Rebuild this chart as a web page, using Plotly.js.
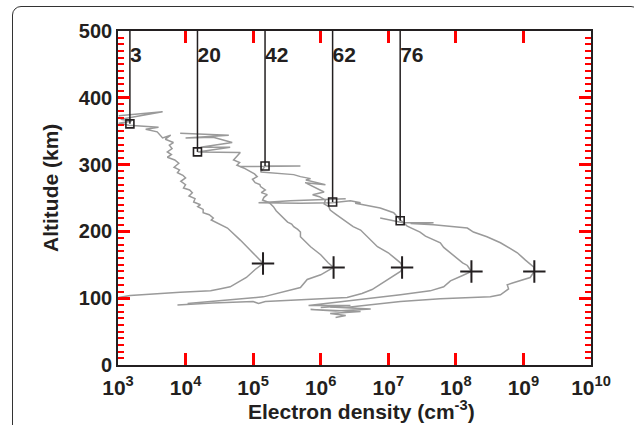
<!DOCTYPE html>
<html>
<head>
<meta charset="utf-8">
<script src="https://cdn.plot.ly/plotly-3.0.1.min.js"></script>
<style>
html,body{margin:0;padding:0;width:634px;height:425px;overflow:hidden;background:#fff}
#frame{position:absolute;left:12px;top:6px;width:628px;height:500px;border:1px solid #333;border-radius:9px;box-sizing:border-box}
#chart{position:absolute;left:0;top:0;width:634px;height:425px}
</style>
</head>
<body>
<div id="frame"></div>
<div id="chart"></div>
<script>
// ---- data (log10 electron density in cm^-3, altitude in km) ----
const profileLabels = ['3', '20', '42', '62', '76'];

const p1LogNe = [3.01,3.66,3.33,3.04,3.20,3.01,3.16,3.60,3.41,3.58,3.66,3.78,3.70,3.82,3.76,3.80,3.73,3.79,3.73,3.84,3.90,3.83,3.91,3.88,3.96,4.00,3.93,4.00,3.97,4.06,4.10,4.05,4.14,4.12,4.22,4.18,4.26,4.26,4.35,4.41,4.38,4.44,4.62,4.81,5.00,5.15,5.03,4.90,4.76,4.66,4.52,4.37,3.92,3.18,3.01];
const p1Alt   = [373,379,373,368,365,362,359,356,353,349,340,344,338,333,329,324,319,315,311,307,302,296,292,288,284,280,275,270,265,262,258,253,249,244,240,237,233,228,225,220,217,214,205,187,168,152,143,131,123,117,114,111,109,104,101];

const p2LogNe = [3.92,4.64,4.00,4.41,4.69,4.22,4.66,4.18,4.81,4.71,4.80,4.76,4.86,4.91,4.96,5.02,5.06,4.99,5.03,5.10,5.11,5.18,5.12,5.21,5.16,5.14,5.24,5.30,5.34,5.40,5.46,5.51,5.57,5.60,5.66,5.70,5.70,5.85,6.00,6.11,6.19,6.00,5.80,5.70,5.15,4.03];
const p2Alt   = [347,344,340,341,333,326,326,319,318,307,303,299,295,292,289,286,282,278,273,270,267,262,258,255,251,247,243,237,231,225,220,214,211,207,203,199,192,177,165,153,146,135,128,116,102,92];

const p3LogNe = [4.81,5.70,5.18,5.11,5.60,5.70,5.85,5.78,6.07,5.77,6.00,6.05,5.88,5.98,6.07,6.05,6.12,6.14,6.22,6.34,6.42,6.48,6.59,6.63,6.76,6.84,7.00,7.18,7.21,7.18,6.76,6.61,6.39,5.70,5.18,5.08,5.00,4.40,3.88];
const p3Alt   = [297,298,298,289,285,282,279,277,270,273,262,259,255,252,247,241,237,232,226,217,212,207,202,198,184,177,168,153,146,140,113,107,101,98,95,92,95,93,90];

const p4LogNe = [6.37,5.55,5.08,5.70,6.17,6.44,6.59,6.51,6.63,6.88,7.08,7.18,7.28,7.36,7.47,7.55,7.67,7.77,7.82,7.92,8.00,8.10,8.17,8.23,8.10,7.92,7.82,7.62,7.18,6.59,6.14,5.82,6.44,6.00];
const p4Alt   = [249,246,243,242,243,246,243,242,240,235,228,217,208,204,199,193,187,183,176,168,161,153,149,140,134,126,117,111,105,98,92,89,89,86];

const p5LogNe = [6.88,7.22,7.67,7.33,7.67,8.17,8.26,8.46,8.66,8.91,9.03,9.15,9.16,9.10,8.85,8.76,8.78,8.66,8.51,7.77,7.18,6.74,6.37,6.14,6.74,6.22,5.85,6.59,6.14,6.37,6.22];
const p5Alt   = [220,213,213,212,210,205,199,192,183,168,157,147,140,131,123,120,114,105,102,99,95,90,86,87,84,81,83,80,77,74,71];

// top-of-profile markers (squares) and peak markers (plus signs)
const topNe   = [1.5e3, 1.5e4, 1.5e5, 1.5e6, 1.5e7];
const topAlt  = [361, 319, 298, 244, 216];
const peakNe  = [1.4e5, 1.55e6, 1.6e7, 1.7e8, 1.45e9];
const peakAlt = [152, 146, 146, 140, 140];

const xTickVals = [1e3,1e4,1e5,1e6,1e7,1e8,1e9,1e10];
const xTickText = ['10<sup>3</sup>','10<sup>4</sup>','10<sup>5</sup>','10<sup>6</sup>','10<sup>7</sup>','10<sup>8</sup>','10<sup>9</sup>','10<sup>10</sup>'];

// ---- styling constants ----
const GRAY = '#9a9a9a';
const INK = '#231f20';
const TICK = 'red';
const FONT = 'Liberation Sans, Arial, Helvetica, sans-serif';
const TOP_ALT = 500;
const LABEL_ALT = 461;

const profiles = [[p1LogNe,p1Alt],[p2LogNe,p2Alt],[p3LogNe,p3Alt],[p4LogNe,p4Alt],[p5LogNe,p5Alt]];
const traces = [];
profiles.forEach(([lg, al]) => {
  traces.push({
    x: lg.map(v => Math.pow(10, v)), y: al, type: 'scatter', mode: 'lines',
    line: {color: GRAY, width: 1.5}, hoverinfo: 'skip'
  });
});

// vertical lines from square markers to top of plot
const vx = [], vy = [];
topNe.forEach((n, i) => { vx.push(n, n, null); vy.push(topAlt[i], TOP_ALT, null); });
traces.push({x: vx, y: vy, type: 'scatter', mode: 'lines', line: {color: INK, width: 1.5}});

traces.push({x: topNe, y: topAlt, type: 'scatter', mode: 'markers',
  marker: {symbol: 'square-open', size: 8, color: INK, line: {color: INK, width: 1.6}}});
traces.push({x: peakNe, y: peakAlt, type: 'scatter', mode: 'markers',
  marker: {symbol: 'cross-thin-open', size: 16, color: INK, line: {color: INK, width: 2}}});
traces.push({x: topNe, y: topNe.map(() => LABEL_ALT), type: 'scatter', mode: 'text',
  text: profileLabels, textposition: 'middle right',
  textfont: {family: FONT, size: 21, color: INK, weight: 'bold'}});

const layout = {
  width: 634, height: 425,
  margin: {l: 118, r: 43, t: 31, b: 60},
  paper_bgcolor: 'rgba(0,0,0,0)', plot_bgcolor: 'rgba(0,0,0,0)',
  showlegend: false,
  xaxis: {
    type: 'log', range: [3, 10], tickmode: 'array', tickvals: xTickVals, ticktext: xTickText,
    ticks: 'inside', ticklen: 12, tickwidth: 3, tickcolor: TICK,
    showline: true, linecolor: INK, linewidth: 1.8, mirror: 'ticks',
    showgrid: false, zeroline: false, ticklabelstandoff: 3,
    tickfont: {family: FONT, size: 21, color: INK, weight: 'bold'}
  },
  yaxis: {
    range: [0, 500], dtick: 100,
    ticks: 'inside', ticklen: 12, tickwidth: 3, tickcolor: TICK,
    minor: {dtick: 10, ticks: 'inside', ticklen: 6, tickwidth: 2, tickcolor: TICK},
    showline: true, linecolor: INK, linewidth: 1.8, mirror: 'ticks',
    showgrid: false, zeroline: false,
    tickfont: {family: FONT, size: 20, color: INK, weight: 'bold'}
  },
  annotations: [
    {xref: 'paper', yref: 'paper', x: (361-118)/473, y: (365-410)/334, showarrow: false,
     text: 'Electron density (cm<sup>-3</sup>)', xanchor: 'center', yanchor: 'middle',
     font: {family: FONT, size: 21, color: INK, weight: 'bold'}},
    {xref: 'paper', yref: 'paper', x: (50-118)/473, y: (365-188)/334, showarrow: false,
     text: 'Altitude (km)', textangle: -90, xanchor: 'center', yanchor: 'middle',
     font: {family: FONT, size: 21, color: INK, weight: 'bold'}}
  ]
};

Plotly.newPlot('chart', traces, layout, {displayModeBar: false, staticPlot: true});
</script>
</body>
</html>
